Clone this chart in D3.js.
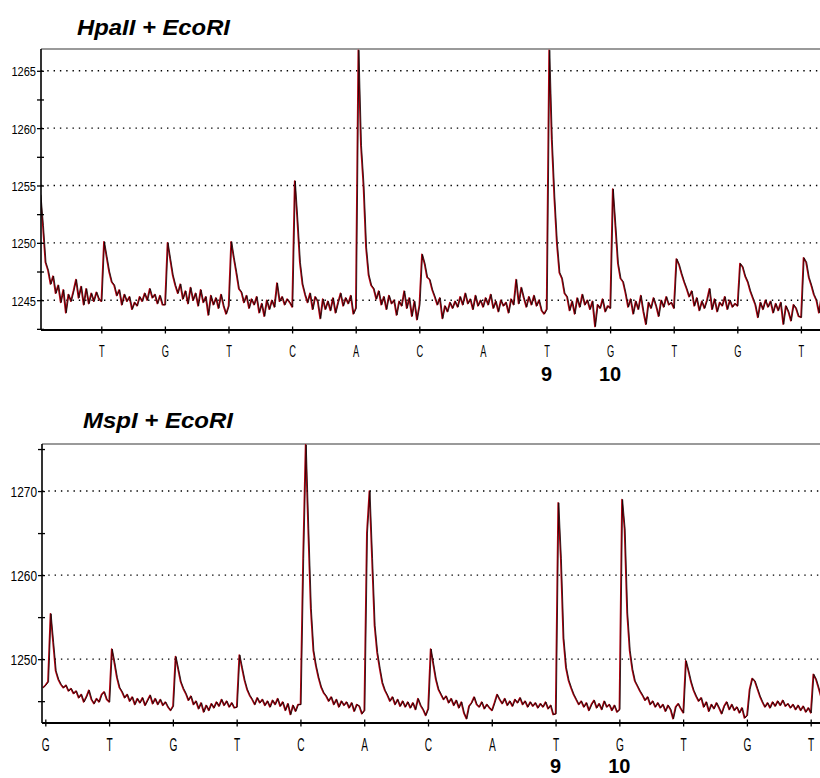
<!DOCTYPE html>
<html>
<head>
<meta charset="utf-8">
<script src="https://cdn.jsdelivr.net/npm/d3@7"></script>
<style>
body { margin: 0; background: #fff; }
svg { display: block; font-family: "Liberation Sans", Arial, sans-serif; }
</style>
</head>
<body>
<svg id="chart" width="820" height="778"></svg>
<script>
/* DATA
------------------------------------------------------ */

const hpaTitle = "HpaII + EcoRI";
const mspTitle = "MspI + EcoRI";

// base calls under the x axis (hpa starts at position 1, msp at position 0)
const hpaBases = ["T","G","T","C","A","C","A","T","G","T","G","T"];
const mspBases = ["G","T","G","T","C","A","C","A","T","G","T","G","T"];
const hpaFirstPos = 1;
const mspFirstPos = 0;

// numbered bases (positions on the x axis)
const markedPos = [8, 9];
const markedLabels = ["9", "10"];

// y ticks
const hpaMajor = [1245, 1250, 1255, 1260, 1265];
const hpaMinor = [1242.5, 1247.5, 1252.5, 1257.5, 1262.5];
const mspMajor = [1250, 1260, 1270];
const mspMinor = [1245, 1255, 1265, 1275];

// signal sampled every 0.04 base position; one line per base interval
const scanStep = 0.04;
const hpaStart = 0.04;
const hpaSignal = [
  1254.2,1251.5,1248.3,1247.6,1246.4,1247.1,1245.6,1246.3,1244.8,1245.9,1243.9,1245.5,1244.9,1245.8,1246.8,1245.2,1246.2,1244.6,1246.0,1244.7,1245.6,1244.9,1245.7,1245.1,
  1244.9,1250.1,1248.8,1247.5,1246.6,1246.3,1245.4,1245.9,1244.6,1245.5,1244.9,1245.3,1244.2,1244.8,1244.5,1245.3,1244.9,1245.6,1245.0,1246.0,1245.2,1245.5,1244.7,1245.4,1244.6,
  1244.6,1250.0,1248.6,1247.2,1246.3,1245.6,1246.4,1245.1,1245.8,1244.7,1246.1,1245.0,1245.6,1244.5,1245.9,1244.8,1245.3,1243.7,1245.4,1244.6,1245.2,1244.3,1245.5,1244.5,1243.8,
  1244.5,1250.1,1248.7,1247.4,1246.0,1245.7,1244.8,1245.4,1244.3,1245.1,1244.6,1245.3,1243.9,1244.7,1243.6,1245.0,1244.2,1245.0,1244.4,1246.5,1244.9,1245.3,1244.6,1245.1,1244.8,
  1244.4,1255.4,1252.0,1248.3,1246.4,1245.5,1244.8,1245.6,1244.2,1245.3,1244.9,1243.4,1245.1,1244.2,1244.9,1244.1,1245.2,1243.9,1244.8,1245.6,1244.5,1245.2,1244.7,1245.4,1243.8,
  1244.3,1266.8,1258.5,1255.0,1249.6,1247.2,1246.3,1246.0,1245.1,1245.8,1244.6,1245.3,1244.2,1245.4,1244.7,1245.0,1243.7,1244.9,1244.5,1245.8,1244.3,1245.2,1243.6,1244.9,1243.3,
  1244.6,1249.0,1248.2,1247.0,1246.8,1245.9,1245.3,1244.6,1245.2,1243.4,1244.5,1244.0,1244.8,1244.3,1244.9,1244.4,1245.3,1244.6,1245.6,1244.7,1245.1,1244.2,1245.4,1244.5,1245.0,
  1244.4,1245.2,1244.6,1245.5,1244.3,1244.9,1244.0,1245.0,1244.5,1244.8,1243.9,1245.1,1244.6,1246.8,1244.7,1246.1,1245.2,1244.4,1245.3,1244.6,1245.4,1244.5,1245.0,1244.1,1243.8,
  1244.2,1266.8,1259.0,1254.0,1250.0,1247.4,1246.9,1245.6,1245.3,1244.1,1244.9,1243.8,1245.2,1244.4,1245.5,1244.6,1245.0,1244.2,1244.9,1242.7,1244.6,1244.3,1245.1,1244.0,1244.5,
  1244.3,1254.7,1251.5,1248.2,1246.9,1246.6,1245.6,1244.4,1245.1,1243.8,1244.9,1244.2,1245.4,1244.0,1242.9,1244.8,1244.3,1245.2,1244.5,1243.6,1245.0,1244.4,1245.3,1244.6,1244.8,
  1244.3,1248.6,1248.1,1247.3,1246.6,1246.0,1245.3,1245.8,1244.5,1245.2,1244.1,1244.9,1244.3,1245.0,1246.0,1244.2,1245.1,1244.0,1244.8,1244.5,1245.3,1244.2,1245.0,1244.4,1244.7,
  1244.5,1248.2,1247.9,1247.1,1246.6,1245.8,1245.2,1244.6,1243.5,1244.8,1244.2,1245.0,1244.4,1244.9,1243.9,1244.7,1244.1,1244.8,1242.9,1244.5,1244.0,1243.2,1244.6,1244.3,1243.6,
  1243.5,1248.7,1248.3,1247.0,1246.3,1245.5,1245.0,1243.9,1245.3
];

const mspStart = -0.04;
const mspSignal = [
  1246.6,
  1246.9,1247.3,1255.4,1252.0,1248.6,1247.6,1247.0,1246.6,1246.9,1246.2,1246.5,1245.9,1246.2,1245.4,1245.8,1244.9,1245.5,1246.3,1245.2,1244.7,1245.3,1244.9,1245.8,1246.1,1245.2,
  1244.9,1251.2,1249.6,1247.8,1246.6,1246.1,1245.4,1245.8,1245.0,1245.5,1244.6,1245.3,1244.8,1245.4,1244.5,1245.1,1245.7,1244.7,1245.3,1244.6,1245.2,1244.5,1244.9,1244.3,1243.9,
  1244.4,1250.3,1248.8,1247.3,1246.5,1245.9,1245.1,1245.6,1244.6,1245.0,1244.1,1244.8,1243.7,1244.5,1243.9,1244.7,1244.2,1244.9,1244.4,1245.2,1244.5,1245.0,1244.3,1244.8,1244.2,
  1244.3,1250.5,1249.0,1247.5,1246.4,1245.7,1245.2,1244.6,1245.4,1244.8,1245.2,1244.5,1245.0,1244.3,1245.1,1244.6,1245.3,1244.4,1244.9,1243.9,1244.7,1243.4,1244.5,1243.8,1244.6,
  1244.6,1262.0,1275.5,1265.5,1256.0,1251.0,1249.2,1247.8,1246.7,1246.0,1245.6,1245.0,1245.5,1244.6,1245.2,1244.3,1245.0,1244.5,1244.9,1244.2,1244.8,1243.8,1244.6,1244.4,1243.5,
  1243.9,1265.0,1270.0,1262.0,1254.0,1250.8,1248.9,1247.2,1246.3,1245.7,1245.0,1245.5,1244.6,1245.2,1244.4,1245.0,1244.3,1244.9,1244.2,1244.8,1244.0,1245.3,1244.5,1244.0,1243.3,
  1244.1,1251.2,1249.4,1247.6,1246.4,1245.8,1245.2,1245.6,1244.8,1245.3,1244.5,1245.1,1244.2,1244.9,1243.6,1242.9,1244.4,1244.8,1245.5,1244.6,1244.3,1244.9,1244.1,1244.6,1244.2,
  1243.9,1244.8,1245.8,1245.2,1244.7,1245.3,1244.5,1245.0,1244.4,1245.2,1244.8,1245.4,1244.6,1245.0,1244.3,1244.9,1244.4,1244.8,1244.2,1244.7,1244.3,1244.9,1244.1,1244.5,1243.4,
  1243.5,1268.6,1262.0,1252.5,1249.0,1247.5,1246.6,1245.8,1245.2,1244.6,1245.0,1244.3,1244.8,1243.9,1244.6,1245.1,1244.2,1244.7,1244.0,1245.0,1244.3,1244.6,1243.9,1244.5,1243.7,
  1244.0,1269.0,1265.5,1255.5,1251.0,1248.8,1247.4,1246.8,1246.2,1245.7,1245.1,1245.5,1244.6,1245.0,1244.3,1244.8,1244.2,1244.6,1243.8,1244.5,1244.0,1242.9,1244.3,1244.7,1244.1,
  1243.6,1249.8,1248.6,1247.3,1246.3,1245.6,1245.0,1245.4,1244.3,1244.9,1243.8,1244.6,1244.1,1244.8,1244.2,1243.5,1244.4,1244.9,1244.0,1244.6,1243.9,1244.3,1243.6,1244.2,1243.0,
  1243.3,1246.4,1247.7,1247.4,1246.5,1245.6,1244.9,1244.3,1244.8,1244.2,1244.9,1244.4,1245.0,1244.5,1245.1,1244.4,1244.7,1244.2,1244.6,1244.0,1244.5,1243.9,1244.4,1243.7,1244.2,
  1243.6,1248.2,1247.6,1246.6,1245.5
];

/* LAYOUT
------------------------------------------------------ */

const svg = d3.select("#chart");

const panels = [
  {
    id: "hpa", title: hpaTitle, titleX: 77, titleY: 35, titleW: 153,
    left: 41, right: 820, top: 49, bottom: 330,
    xDomain: [0.052, 12.30], yDomain: [1242.4, 1266.9],
    bases: hpaBases, firstPos: hpaFirstPos,
    major: hpaMajor, minor: hpaMinor,
    start: hpaStart, signal: hpaSignal,
    yFont: 13.5, baseFont: 16, baseDy: 26.5, markY: 381
  },
  {
    id: "msp", title: mspTitle, titleX: 83, titleY: 428, titleW: 150,
    left: 42, right: 820, top: 444, bottom: 723,
    xDomain: [-0.052, 12.146], yDomain: [1242.4, 1275.6],
    bases: mspBases, firstPos: mspFirstPos,
    major: mspMajor, minor: mspMinor,
    start: mspStart, signal: mspSignal,
    yFont: 14.5, baseFont: 17.5, baseDy: 27.5, markY: 773
  }
];

panels.forEach(function(p) {

  const x = d3.scaleLinear().domain(p.xDomain).range([p.left, p.right]);
  const y = d3.scaleLinear().domain(p.yDomain).range([p.bottom, p.top]);

  const g = svg.append("g").attr("class", "panel-" + p.id);

  // title
  g.append("text")
    .attr("x", p.titleX)
    .attr("y", p.titleY)
    .attr("font-size", 22)
    .attr("font-weight", "bold")
    .attr("font-style", "italic")
    .attr("textLength", p.titleW)
    .attr("lengthAdjust", "spacingAndGlyphs")
    .attr("fill", "#000")
    .text(p.title);

  // dotted gridlines
  g.append("g")
    .selectAll("line")
    .data(p.major)
    .enter()
    .append("line")
    .attr("x1", p.left)
    .attr("x2", p.right)
    .attr("y1", d => y(d))
    .attr("y2", d => y(d))
    .attr("stroke", "#000")
    .attr("stroke-width", 1.4)
    .attr("stroke-dasharray", "1.4,4.9");

  // gray top border
  g.append("line")
    .attr("x1", p.left).attr("x2", p.right)
    .attr("y1", p.top).attr("y2", p.top)
    .attr("stroke", "#9a9a9a")
    .attr("stroke-width", 2);

  // trace: red line with black line on top
  const clipId = "clip-" + p.id;
  svg.append("clipPath").attr("id", clipId)
    .append("rect")
    .attr("x", p.left).attr("y", p.top)
    .attr("width", p.right - p.left).attr("height", p.bottom - p.top);

  const pts = p.signal.map((v, i) => [p.start + i * scanStep, v]);
  const line = d3.line().x(d => x(d[0])).y(d => y(d[1]));

  const trace = g.append("g").attr("clip-path", "url(#" + clipId + ")");
  trace.append("path")
    .datum(pts)
    .attr("d", line)
    .attr("fill", "none")
    .attr("stroke", "#b0000f")
    .attr("stroke-width", 1.5)
    .attr("stroke-linejoin", "round");
  trace.append("path")
    .datum(pts)
    .attr("d", line)
    .attr("transform", "translate(0.7,0)")
    .attr("fill", "none")
    .attr("stroke", "#000")
    .attr("stroke-width", 0.75);

  // y axis
  const yAxis = d3.axisLeft(y)
    .tickValues(p.major.concat(p.minor))
    .tickFormat(d => p.major.includes(d) ? d : "")
    .tickSize(4);

  const gy = g.append("g")
    .attr("transform", "translate(" + p.left + ",0)")
    .call(yAxis);
  gy.select(".domain").remove();
  gy.selectAll(".tick line").attr("x1", 3).attr("x2", -4).attr("stroke-width", 1.3);
  gy.selectAll(".tick text")
    .attr("x", null)
    .attr("dy", "0.36em")
    .attr("font-size", p.yFont)
    .attr("font-family", "'Liberation Sans', Arial, sans-serif")
    .attr("transform", "translate(-5,0) scale(0.82,1)");

  g.append("line")
    .attr("x1", p.left).attr("x2", p.left)
    .attr("y1", p.top).attr("y2", p.bottom)
    .attr("stroke", "#000")
    .attr("stroke-width", 1.6);

  // x axis with base letters
  const positions = p.bases.map((b, i) => i + p.firstPos);
  const xAxis = d3.axisBottom(x)
    .tickValues(positions)
    .tickFormat(d => p.bases[d - p.firstPos])
    .tickSize(4);

  const gx = g.append("g")
    .attr("transform", "translate(0," + p.bottom + ")")
    .call(xAxis);
  gx.select(".domain").remove();
  gx.selectAll(".tick line").attr("y1", -3.5).attr("y2", 3.5).attr("stroke-width", 1.3);
  gx.selectAll(".tick text")
    .attr("y", null)
    .attr("dy", null)
    .attr("font-size", p.baseFont)
    .attr("font-family", "'Liberation Sans', Arial, sans-serif")
    .attr("fill", "#000")
    .attr("transform", "translate(0," + p.baseDy + ") scale(0.58,1)");

  g.append("line")
    .attr("x1", p.left).attr("x2", p.right)
    .attr("y1", p.bottom).attr("y2", p.bottom)
    .attr("stroke", "#000")
    .attr("stroke-width", 2.2);

  // numbered bases
  g.append("g")
    .selectAll("text")
    .data(markedPos)
    .enter()
    .append("text")
    .attr("x", d => x(d))
    .attr("y", p.markY)
    .attr("text-anchor", "middle")
    .attr("font-size", 20)
    .attr("font-weight", "bold")
    .text((d, i) => markedLabels[i]);
});
</script>
</body>
</html>
